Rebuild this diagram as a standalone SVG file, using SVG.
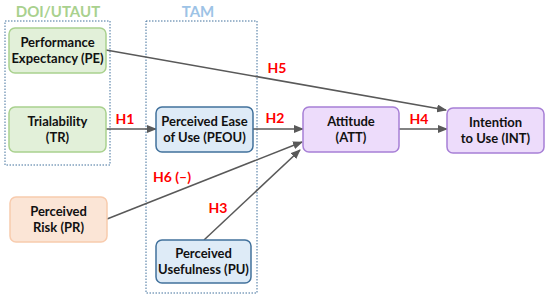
<svg xmlns="http://www.w3.org/2000/svg" width="550" height="299" viewBox="0 0 550 299">
<defs>
<marker id="ah" markerWidth="10" markerHeight="8" refX="9" refY="4" orient="auto" markerUnits="userSpaceOnUse">
<path d="M0,0 L10,4 L0,8 Z" fill="#595959"/>
</marker>
<style>
.grp{fill:none;stroke:#41719c;stroke-width:1;stroke-dasharray:1.5,1.5}
.nt{font-family:"Lato","Liberation Sans",sans-serif;font-weight:bold;font-size:13px;fill:#111;text-anchor:middle}
.gt{font-family:"Lato","Liberation Sans",sans-serif;font-weight:bold;font-size:15px;text-anchor:middle}
.ht{font-family:"Lato","Liberation Sans",sans-serif;font-weight:bold;font-size:14px;fill:#ff0000;text-anchor:middle}
.g{fill:#e2f0d9;stroke:#a9d18e;stroke-width:1.5}
.b{fill:#deebf7;stroke:#41719c;stroke-width:1.5}
.o{fill:#fbe5d6;stroke:#f8cbad;stroke-width:1.5}
.p{fill:#eddcfb;stroke:#a77fd6;stroke-width:1.5}
.c{stroke:#595959;stroke-width:1.5;fill:none;marker-end:url(#ah)}
.cn{stroke:#595959;stroke-width:1.5;fill:none}
</style>
</defs>
<rect width="550" height="299" fill="#fff"/>
<g id="group-doi">
<rect class="grp" x="5" y="21" width="105" height="144"/>
<text class="gt" x="58" y="17" fill="#a9d18e">DOI/UTAUT</text>
</g>
<g id="group-tam">
<rect class="grp" x="146" y="21" width="111" height="272"/>
<text class="gt" x="198" y="17" fill="#9dc3e6">TAM</text>
</g>
<g id="connectors">
<line class="c" x1="106" y1="50" x2="446" y2="110"/>
<line class="c" x1="106" y1="129" x2="156" y2="129"/>
<line class="c" x1="253" y1="129" x2="303" y2="129"/>
<line class="c" x1="399" y1="129" x2="447" y2="129"/>
<line class="c" x1="107" y1="219" x2="302" y2="142"/>
<line class="c" x1="204" y1="240" x2="300" y2="150"/>
<text class="ht" x="125" y="124">H1</text>
<text class="ht" x="275" y="123">H2</text>
<text class="ht" x="277" y="73">H5</text>
<text class="ht" x="419" y="124">H4</text>
<text class="ht" x="172" y="182">H6 (–)</text>
<text class="ht" x="218" y="213">H3</text>
</g>
<g id="node-pe">
<rect class="g" x="9" y="28" width="97" height="45" rx="6"/>
<text class="nt" x="57.5" y="47">Performance</text>
<text class="nt" x="57.5" y="63">Expectancy (PE)</text>
</g>
<g id="node-tr">
<rect class="g" x="9" y="107" width="97" height="45" rx="6"/>
<text class="nt" x="57.5" y="126">Trialability</text>
<text class="nt" x="57.5" y="142">(TR)</text>
</g>
<g id="node-pr">
<rect class="o" x="10" y="197" width="97" height="45" rx="6"/>
<text class="nt" x="58.5" y="216">Perceived</text>
<text class="nt" x="58.5" y="232">Risk (PR)</text>
</g>
<g id="node-peou">
<rect class="b" x="156" y="107" width="97" height="45" rx="6"/>
<text class="nt" x="204.5" y="126">Perceived Ease</text>
<text class="nt" x="204.5" y="142">of Use (PEOU)</text>
</g>
<g id="node-pu">
<rect class="b" x="156" y="240" width="95" height="43" rx="6"/>
<text class="nt" x="203.5" y="258">Perceived</text>
<text class="nt" x="203.5" y="274">Usefulness (PU)</text>
</g>
<g id="node-att">
<rect class="p" x="303" y="107" width="96" height="45" rx="6"/>
<text class="nt" x="351" y="126">Attitude</text>
<text class="nt" x="351" y="142">(ATT)</text>
</g>
<g id="node-int">
<rect class="p" x="447" y="108" width="97" height="45" rx="6"/>
<text class="nt" x="495.5" y="127">Intention</text>
<text class="nt" x="495.5" y="143">to Use (INT)</text>
</g>
</svg>
